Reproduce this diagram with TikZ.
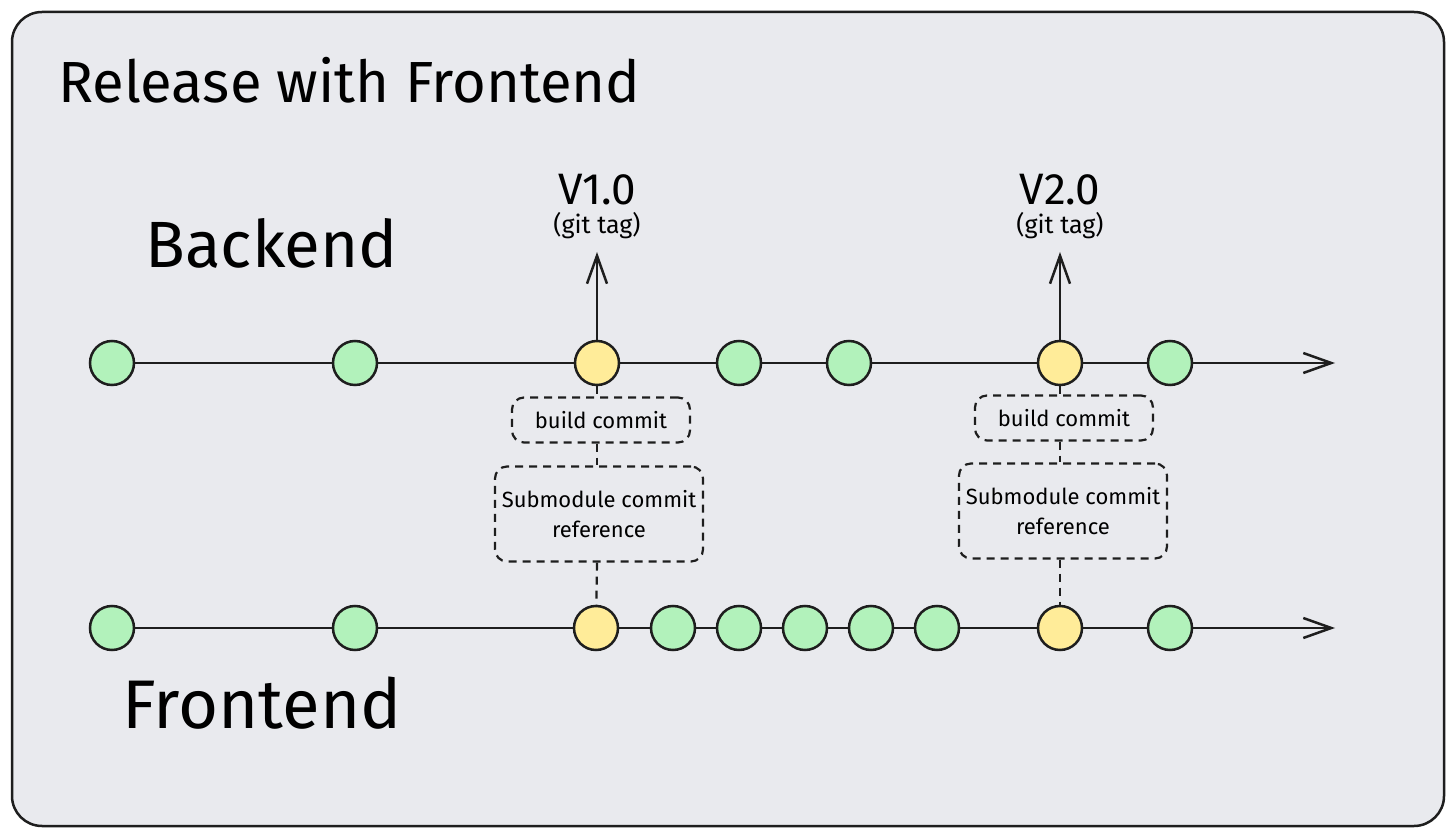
\documentclass[tikz,border=0pt]{standalone}
\usepackage{fontspec}
\setmainfont{Fira Sans}
\usetikzlibrary{arrows.meta}
\usetikzlibrary{positioning,calc}

\definecolor{canvas}{HTML}{E9EAEE}
\definecolor{ink}{HTML}{1E1E1E}
\definecolor{commitgreen}{HTML}{B2F2BB}
\definecolor{commityellow}{HTML}{FFEC99}

\tikzset{
    commit/.style={circle, draw=ink, line width=1.25pt, minimum size=22pt, inner sep=0pt},
    plain/.style={commit, fill=commitgreen},
    release/.style={commit, fill=commityellow},
    timeline/.style={draw=ink, line width=1.25pt},
    tip/.style={-{Straight Barb[length=14pt,width=10pt,line width=1.25pt]}},
    link/.style={draw=ink, line width=1.1pt, dash pattern=on 4pt off 3pt},
    notebox/.style={link, rounded corners=6pt, align=center, inner sep=0pt,
        font=\fontsize{11}{15}\selectfont},
    tagname/.style={anchor=base, inner sep=0pt, font=\fontsize{22}{24}\selectfont},
    tagnote/.style={inner sep=0pt, font=\fontsize{12.5}{14}\selectfont}
}

\begin{document}
\begin{tikzpicture}[x=0.5pt,y=-0.5pt]
        \def\backy{363}
        \def\fronty{628}
        \useasboundingbox (0,0) rectangle (1456,838);
        \filldraw [fill=canvas, draw=ink, line width=1.25pt, rounded corners=15pt] (12,12) rectangle (1444,826);
        \node [anchor=base west, inner sep=0pt, font=\fontsize{29}{32}\selectfont] (title) at (58,103) {Release with Frontend};
        \node [anchor=base west, inner sep=0pt, font=\fontsize{32.7}{36}\selectfont] (backlabel) at (145,268) {Backend};
        \node [anchor=base west, inner sep=0pt, font=\fontsize{34.4}{38}\selectfont] (frontlabel) at (122,728) {Frontend};
        % backend commits
        \foreach[count=\i] \x/\kind in {112/plain, 355/plain, 597/release, 739/plain, 849/plain, 1060/release, 1170/plain}
        {
            \node [\kind] (b\i) at (\x,\backy) {};
        }
        \foreach \i [evaluate=\i as \j using int(\i+1)] in {1,...,6}
        {
            \draw [timeline] (b\i) -- (b\j);
        }
        \coordinate (bend) at (1335,\backy);
        \draw [timeline, tip] (b7) -- (bend);
        % frontend commits
        \foreach[count=\i] \x/\kind in {112/plain, 355/plain, 596/release, 673/plain, 739/plain, 805/plain, 871/plain, 937/plain, 1060/release, 1170/plain}
        {
            \node [\kind] (f\i) at (\x,\fronty) {};
        }
        \foreach \i [evaluate=\i as \j using int(\i+1)] in {1,...,9}
        {
            \draw [timeline] (f\i) -- (f\j);
        }
        \coordinate (fend) at (1335,\fronty);
        \draw [timeline, tip] (f10) -- (fend);
        % tags and submodule references
        \foreach \b/\f/\tag/\bx/\by/\sx/\sy in {3/3/V1.0/601/420/599/514, 6/9/V2.0/1064/418/1063/511}
        {
            \node [tagname] (v\b) at ($(b\b)+(0,-158)$) {\tag};
            \node [tagnote, below=3pt of v\b] (g\b) {(git tag)};
            \coordinate (t\b) at ($(b\b)+(0,-111)$);
            \draw [timeline, tip] (b\b) -- (t\b);
            \node [notebox, minimum width=89pt, minimum height=22.5pt] (build\b) at (\bx,\by) {build commit};
            \node [notebox, minimum width=104pt, minimum height=47.5pt] (sub\b) at (\sx,\sy) {Submodule commit\\reference};
            \draw [link] (b\b) -- (b\b |- build\b.north);
            \draw [link] (b\b |- build\b.south) -- (b\b |- sub\b.north);
            \draw [link] (b\b |- sub\b.south) -- (f\f);
        }
\end{tikzpicture}
\end{document}
